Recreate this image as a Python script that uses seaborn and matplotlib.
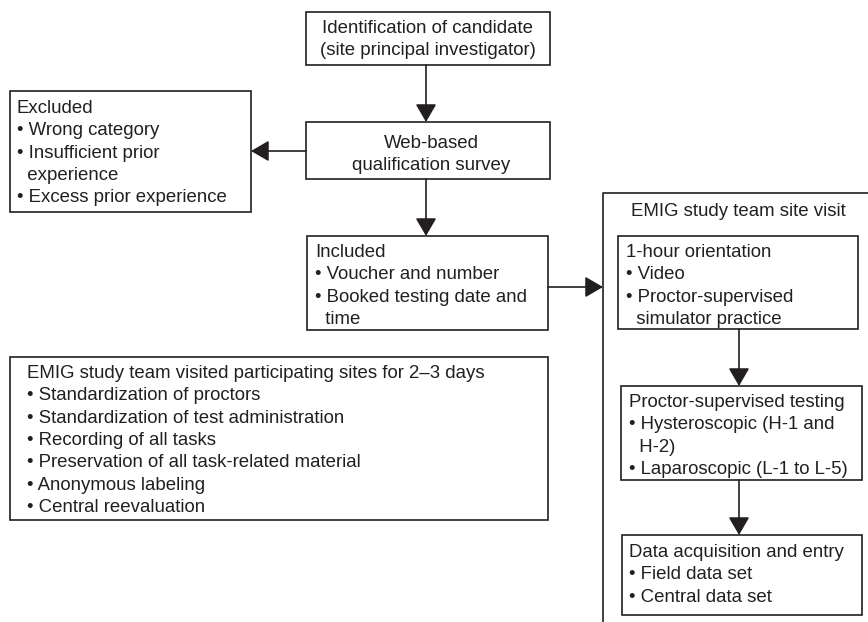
import matplotlib
matplotlib.use("Agg")
import matplotlib.pyplot as plt
from matplotlib.patches import Rectangle, FancyArrowPatch
import seaborn as sns

# box texts
identification = ["Identification of candidate", "(site principal investigator)"]
survey = ["Web-based", "qualification survey"]
excluded = ["Excluded", "• Wrong category", "• Insufficient prior",
            "  experience", "• Excess prior experience"]
included = ["Included", "• Voucher and number", "• Booked testing date and",
            "  time"]
site_visit = ["EMIG study team site visit"]
orientation = ["1-hour orientation", "• Video", "• Proctor-supervised",
               "  simulator practice"]
testing = ["Proctor-supervised testing", "• Hysteroscopic (H-1 and",
           "  H-2)", "• Laparoscopic (L-1 to L-5)"]
acquisition = ["Data acquisition and entry", "• Field data set",
               "• Central data set"]
visited = ["EMIG study team visited participating sites for 2\u20133 days",
           "• Standardization of proctors",
           "• Standardization of test administration",
           "• Recording of all tasks",
           "• Preservation of all task-related material",
           "• Anonymous labeling",
           "• Central reevaluation"]

# layout: box (x0, y0, x1, y1), text x, first line y, alignment
boxes = {
    "identification": ((306, 12, 550, 65), 428, 27, "center", identification),
    "survey": ((306, 122, 550, 179), 431, 142, "center", survey),
    "excluded": ((10, 91, 251, 212), 17, 107, "left", excluded),
    "included": ((307, 236, 548, 330), 315, 251, "left", included),
    "orientation": ((618, 236, 858, 329), 626, 251, "left", orientation),
    "testing": ((621, 386, 862, 480), 629, 401, "left", testing),
    "acquisition": ((622, 535, 862, 615), 629, 551, "left", acquisition),
    "visited": ((10, 357, 548, 520), 27, 372, "left", visited),
}

arrows = [((426, 65), (426, 122)),
          ((426, 179), (426, 236)),
          ((306, 151), (251, 151)),
          ((548, 287), (603, 287)),
          ((739, 329), (739, 386)),
          ((739, 480), (739, 535))]

sns.set_style("white")
plt.rcParams['font.family'] = ['Liberation Sans', 'DejaVu Sans']

ink = "#231f20"
step = 22.3
fs = 13.4

fig = plt.figure(figsize=(8.68, 6.22), dpi=100)
ax = fig.add_axes([0, 0, 1, 1])
ax.set_xlim(0, 868)
ax.set_ylim(622, 0)
ax.axis("off")

for name, (rect, tx, ty, align, lines) in boxes.items():
    x0, y0, x1, y1 = rect
    ax.add_patch(Rectangle((x0, y0), x1 - x0, y1 - y0, fill=False,
                           edgecolor=ink, linewidth=1.2))
    for i, line in enumerate(lines):
        ax.text(tx, ty + i * step + 6, line, ha=align, va="baseline",
                fontsize=fs, color=ink)

# open outer frame for the site visit
ax.plot([603, 603, 868], [622, 193, 193], color=ink, linewidth=1.2)
ax.text(738, 210 + 6, site_visit[0], ha="center", va="baseline",
        fontsize=fs, color=ink)

for start, end in arrows:
    ax.add_patch(FancyArrowPatch(start, end, arrowstyle="-|>,head_length=0.55,head_width=0.32",
                                 mutation_scale=20, color=ink, linewidth=1.2,
                                 shrinkA=0, shrinkB=0))

fig.savefig("out.png", dpi=100)
